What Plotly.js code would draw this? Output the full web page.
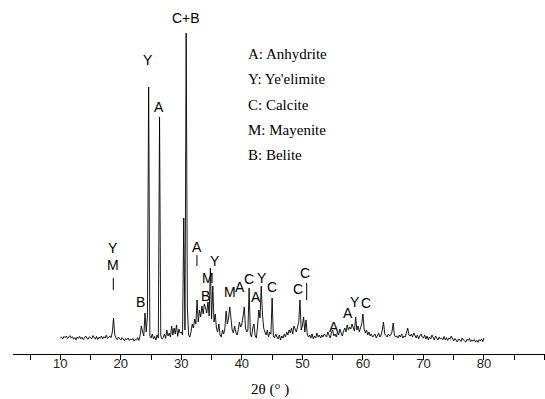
<!DOCTYPE html>
<html>
<head>
<meta charset="utf-8">
<script src="https://cdn.plot.ly/plotly-3.0.1.min.js"></script>
<style>html,body{margin:0;padding:0;background:#fff;}#chart{width:545px;height:399px;}</style>
</head>
<body>
<div id="chart"></div>
<script>
// 2θ sampling grid of the diffractogram: 10° to 80° in 0.2° steps
const twoThetaStart = 10.0;
const twoThetaStep = 0.2;

// Intensity (a.u.), one row per degree (x.0, x.2, x.4, x.6, x.8)
const intensity = [
  80, 85, 75, 88, 82,        // 10
  90, 78, 84, 92, 80,        // 11
  86, 74, 82, 70, 85,        // 12
  78, 88, 76, 84, 72,        // 13
  80, 90, 78, 74, 86,        // 14
  82, 76, 92, 80, 74,        // 15
  88, 72, 84, 78, 90,        // 16
  76, 86, 80, 94, 78,        // 17
  84, 90, 82, 110, 180,      // 18
  95, 80, 72, 84, 76,        // 19
  70, 82, 74, 66, 78,        // 20
  72, 80, 68, 76, 70,        // 21
  78, 64, 74, 70, 82,        // 22
  68, 95, 140, 110, 90,      // 23
  205, 110, 190, 1335, 90,   // 24
  80, 100, 75, 88, 70,       // 25
  95, 80, 1185, 90, 75,      // 26
  82, 100, 78, 120, 90,      // 27
  105, 85, 140, 95, 130,     // 28
  100, 145, 88, 125, 105,    // 29
  110, 95, 680, 120, 1605,   // 30
  230, 95, 85, 110, 150,     // 31
  130, 175, 150, 270, 160,   // 32
  220, 185, 240, 200, 250,   // 33
  230, 205, 260, 190, 430,   // 34
  175, 340, 160, 200, 130,   // 35
  110, 150, 95, 85, 120,     // 36
  100, 130, 215, 150, 180,   // 37
  235, 160, 120, 105, 140,   // 38
  110, 95, 120, 160, 135,    // 39
  150, 190, 235, 130, 110,   // 40
  120, 330, 100, 85, 130,    // 41
  150, 90, 80, 140, 220,     // 42
  180, 340, 200, 130, 110,   // 43
  95, 120, 85, 110, 100,     // 44
  280, 90, 80, 100, 85,      // 45
  75, 95, 70, 90, 80,        // 46
  100, 85, 110, 95, 120,     // 47
  105, 130, 100, 140, 125,   // 48
  110, 135, 160, 270, 120,   // 49
  140, 185, 110, 170, 100,   // 50
  85, 95, 80, 100, 75,       // 51
  90, 80, 105, 85, 95,       // 52
  80, 95, 85, 100, 90,       // 53
  85, 110, 95, 80, 105,      // 54
  120, 90, 100, 85, 110,     // 55
  95, 125, 105, 90, 115,     // 56
  130, 110, 145, 120, 135,   // 57
  125, 150, 130, 115, 185,   // 58
  120, 140, 110, 130, 150,   // 59
  200, 125, 105, 120, 95,    // 60
  110, 90, 100, 85, 95,      // 61
  100, 80, 90, 105, 85,      // 62
  95, 120, 160, 100, 90,     // 63
  85, 100, 90, 95, 110,      // 64
  155, 95, 85, 90, 80,       // 65
  95, 85, 100, 80, 90,       // 66
  85, 110, 130, 95, 90,      // 67
  100, 85, 105, 90, 80,      // 68
  95, 75, 90, 100, 85,       // 69
  80, 95, 75, 90, 70,        // 70
  85, 75, 95, 80, 70,        // 71
  90, 78, 70, 85, 75,        // 72
  80, 72, 88, 70, 82,        // 73
  68, 80, 74, 90, 72,        // 74
  65, 78, 70, 60, 75,        // 75
  72, 62, 80, 70, 66,        // 76
  60, 74, 68, 78, 62,        // 77
  70, 64, 72, 60, 68,        // 78
  58, 72, 65, 75, 62,        // 79
  80                         // 80
];

// Phase labels on peaks: text, 2θ, intensity of label centre
const labelText  = ["C+B", "Y", "A", "Y", "M", "B", "A", "M", "Y", "B", "M", "A", "C", "A", "Y", "C", "C", "C", "A", "A", "Y", "C"];
const labelTheta = [30.76, 24.49, 26.36, 18.71, 18.71, 23.33, 32.53, 34.40, 35.64, 34.07, 38.04, 39.69, 41.14, 42.41, 43.30, 44.97, 50.43, 49.35, 55.22, 57.50, 58.68, 60.50];
const labelInt   = [1680, 1470, 1235, 530, 445, 260, 535, 380, 465, 290, 310, 335, 375, 285, 380, 335, 405, 325, 135, 205, 260, 255];

// Short leader marks under some labels: 2θ, lower and upper intensity
const leaderTheta = [18.76, 32.58, 50.71];
const leaderLow   = [320, 440, 270];
const leaderHigh  = [380, 495, 355];

// Phase key
const phaseKey = ["A: Anhydrite", "Y: Ye'elimite", "C: Calcite", "M: Mayenite", "B: Belite"];

// Axis ticks
const tickValues = [5, 10, 15, 20, 25, 30, 35, 40, 45, 50, 55, 60, 65, 70, 75, 80, 85, 90];
const tickLabels = ["", "10", "", "20", "", "30", "", "40", "", "50", "", "60", "", "70", "", "80", "", ""];
const xTitle = "2θ (° )";

const twoTheta = intensity.map((_, i) => +(twoThetaStart + i * twoThetaStep).toFixed(2));

const annotations = [];
labelText.forEach((t, i) => {
  annotations.push({
    x: labelTheta[i], y: labelInt[i], xref: 'x', yref: 'y', text: t, showarrow: false,
    font: {family: 'Liberation Sans, Arial, sans-serif', size: 14, color: '#000'}
  });
});
phaseKey.forEach((t, i) => {
  annotations.push({
    x: 246, y: 54 + i * 25.3, xref: 'paper', yref: 'paper', text: t, showarrow: false,
    xanchor: 'left', yanchor: 'middle',
    font: {family: 'Liberation Serif, Times New Roman, serif', size: 15, color: '#000'}
  });
});
// convert pixel-like placement of the key to paper coords
annotations.forEach(a => {
  if (a.xref === 'paper') {
    a.x = (a.x - 13) / 532;
    a.y = (354 - a.y) / 354;
  }
});
annotations.push({
  x: (270 - 13) / 532, y: (354 - 389) / 354, xref: 'paper', yref: 'paper', text: xTitle,
  showarrow: false, xanchor: 'center', yanchor: 'middle',
  font: {family: 'Liberation Serif, Times New Roman, serif', size: 15, color: '#000'}
});

const shapes = leaderTheta.map((t, i) => ({
  type: 'line', xref: 'x', yref: 'y', x0: t, x1: t, y0: leaderLow[i], y1: leaderHigh[i],
  line: {color: '#000', width: 1}
}));

const trace = {
  x: twoTheta, y: intensity, type: 'scatter', mode: 'lines',
  line: {color: '#000', width: 0.9}, hoverinfo: 'skip'
};

const layout = {
  width: 545, height: 399,
  margin: {l: 13, r: 0, t: 0, b: 45},
  paper_bgcolor: '#fff', plot_bgcolor: '#fff',
  showlegend: false,
  xaxis: {
    range: [2.19, 90.08], showline: true, linecolor: '#000', linewidth: 1,
    ticks: 'outside', ticklen: 5, tickwidth: 1, tickcolor: '#000',
    tickmode: 'array', tickvals: tickValues, ticktext: tickLabels,
    ticklabelstandoff: -8,
    showgrid: false, zeroline: false,
    tickfont: {family: 'Liberation Sans, Arial, sans-serif', size: 13, color: '#222'}
  },
  yaxis: {range: [0, 1770], visible: false, showgrid: false, zeroline: false},
  annotations: annotations,
  shapes: shapes
};

Plotly.newPlot('chart', [trace], layout, {staticPlot: true, displayModeBar: false});
</script>
</body>
</html>
